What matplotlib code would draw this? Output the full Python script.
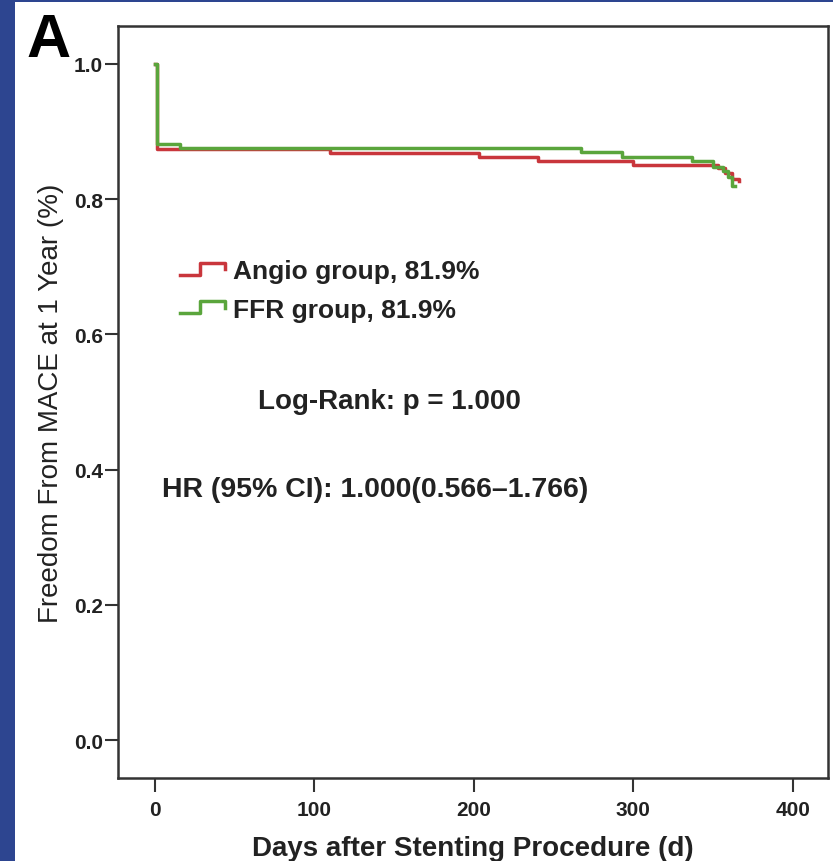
import numpy as np
import matplotlib
matplotlib.use('Agg')
import matplotlib.pyplot as plt
from matplotlib.legend_handler import HandlerBase
from matplotlib.lines import Line2D
from matplotlib.patches import Rectangle

plt.rcParams['font.family'] = ['Liberation Sans', 'DejaVu Sans']

# Kaplan-Meier steps (days, survival)
angio_days = [0, 1.5, 110, 203, 240, 300, 353, 357.5, 362, 366]
angio_surv = [1.0, 0.874, 0.868, 0.862, 0.857, 0.850, 0.846, 0.839, 0.830, 0.827]
ffr_days = [0, 1.5, 16, 267, 293, 337, 350, 356, 359.5, 362, 363.5]
ffr_surv = [1.0, 0.882, 0.876, 0.869, 0.863, 0.857, 0.848, 0.841, 0.832, 0.819, 0.819]

group_labels = ['Angio group, 81.9%', 'FFR group, 81.9%']
colors = ['#c9363c', '#5aa53c']
x_ticks = [0, 100, 200, 300, 400]
y_ticks = [0.0, 0.2, 0.4, 0.6, 0.8, 1.0]
logrank_text = 'Log-Rank: p = 1.000'
hr_text = 'HR (95% CI): 1.000(0.566\u20131.766)'


class StepHandler(HandlerBase):
    # little step glyph like the SPSS legend
    def create_artists(self, legend, orig_handle, xdescent, ydescent,
                       width, height, fontsize, trans):
        xs = np.array([0, 0.45, 0.45, 1.0, 1.0]) * width - xdescent
        ys = np.array([0.2, 0.2, 0.85, 0.85, 0.5]) * height - ydescent
        ln = Line2D(xs, ys, color=orig_handle.get_color(),
                    lw=orig_handle.get_linewidth(), transform=trans)
        return [ln]


fig = plt.figure(figsize=(8.33, 8.62), dpi=100)
fig.patch.set_facecolor('#2d4590')
fig.patches.append(Rectangle((15 / 833, 0), 1, 1 - 3 / 862, transform=fig.transFigure,
                             facecolor='white', edgecolor='none', zorder=-10))

ax = fig.add_axes([118 / 833, 83 / 862, 710 / 833, 752 / 862])

h1, = ax.step(angio_days, angio_surv, where='post', color=colors[0], lw=2.5, zorder=3)
h2, = ax.step(ffr_days, ffr_surv, where='post', color=colors[1], lw=2.5, zorder=4)

ax.set_xlim(-23, 422)
ax.set_ylim(-0.056, 1.056)
ax.set_xticks(x_ticks)
ax.set_yticks(y_ticks)
ax.set_xticklabels([str(t) for t in x_ticks], fontsize=15, fontweight='bold', color='#222222')
ax.set_yticklabels(['%.1f' % t for t in y_ticks], fontsize=15, fontweight='bold', color='#222222')
ax.tick_params(axis='y', length=9.5, width=1.5, pad=1.5, color='#333333')
ax.tick_params(axis='x', length=10, width=1.5, pad=6, color='#333333')
for s in ax.spines.values():
    s.set_linewidth(1.8)
    s.set_color('#333333')

ax.set_xlabel('Days after Stenting Procedure (d)', fontsize=20, fontweight='bold',
              color='#222222', va='center')
ax.xaxis.set_label_coords(0.5, -0.093)
ax.set_ylabel('Freedom From MACE at 1 Year (%)', fontsize=20, color='#222222', va='center')
ax.yaxis.set_label_coords(-0.094, 0.5)

leg = ax.legend([h1, h2], group_labels, handler_map={Line2D: StepHandler()},
                loc='center left', bbox_to_anchor=(0.087, 0.648), frameon=False,
                borderpad=0, borderaxespad=0, handlelength=1.7, handletextpad=0.3,
                labelspacing=0.55, prop={'size': 19, 'weight': 'bold'})
for t in leg.get_texts():
    t.set_color('#222222')

ax.text(65, 0.501, logrank_text, fontsize=20, fontweight='bold', color='#222222',
        ha='left', va='center')
ax.text(4.5, 0.371, hr_text, fontsize=20.5, fontweight='bold', color='#222222',
        ha='left', va='center')

fig.text(26 / 833, 1 - 13 / 862, 'A', fontsize=44, fontweight='bold', color='black',
         ha='left', va='top')

fig.savefig('out.png', dpi=100, facecolor=fig.get_facecolor())
